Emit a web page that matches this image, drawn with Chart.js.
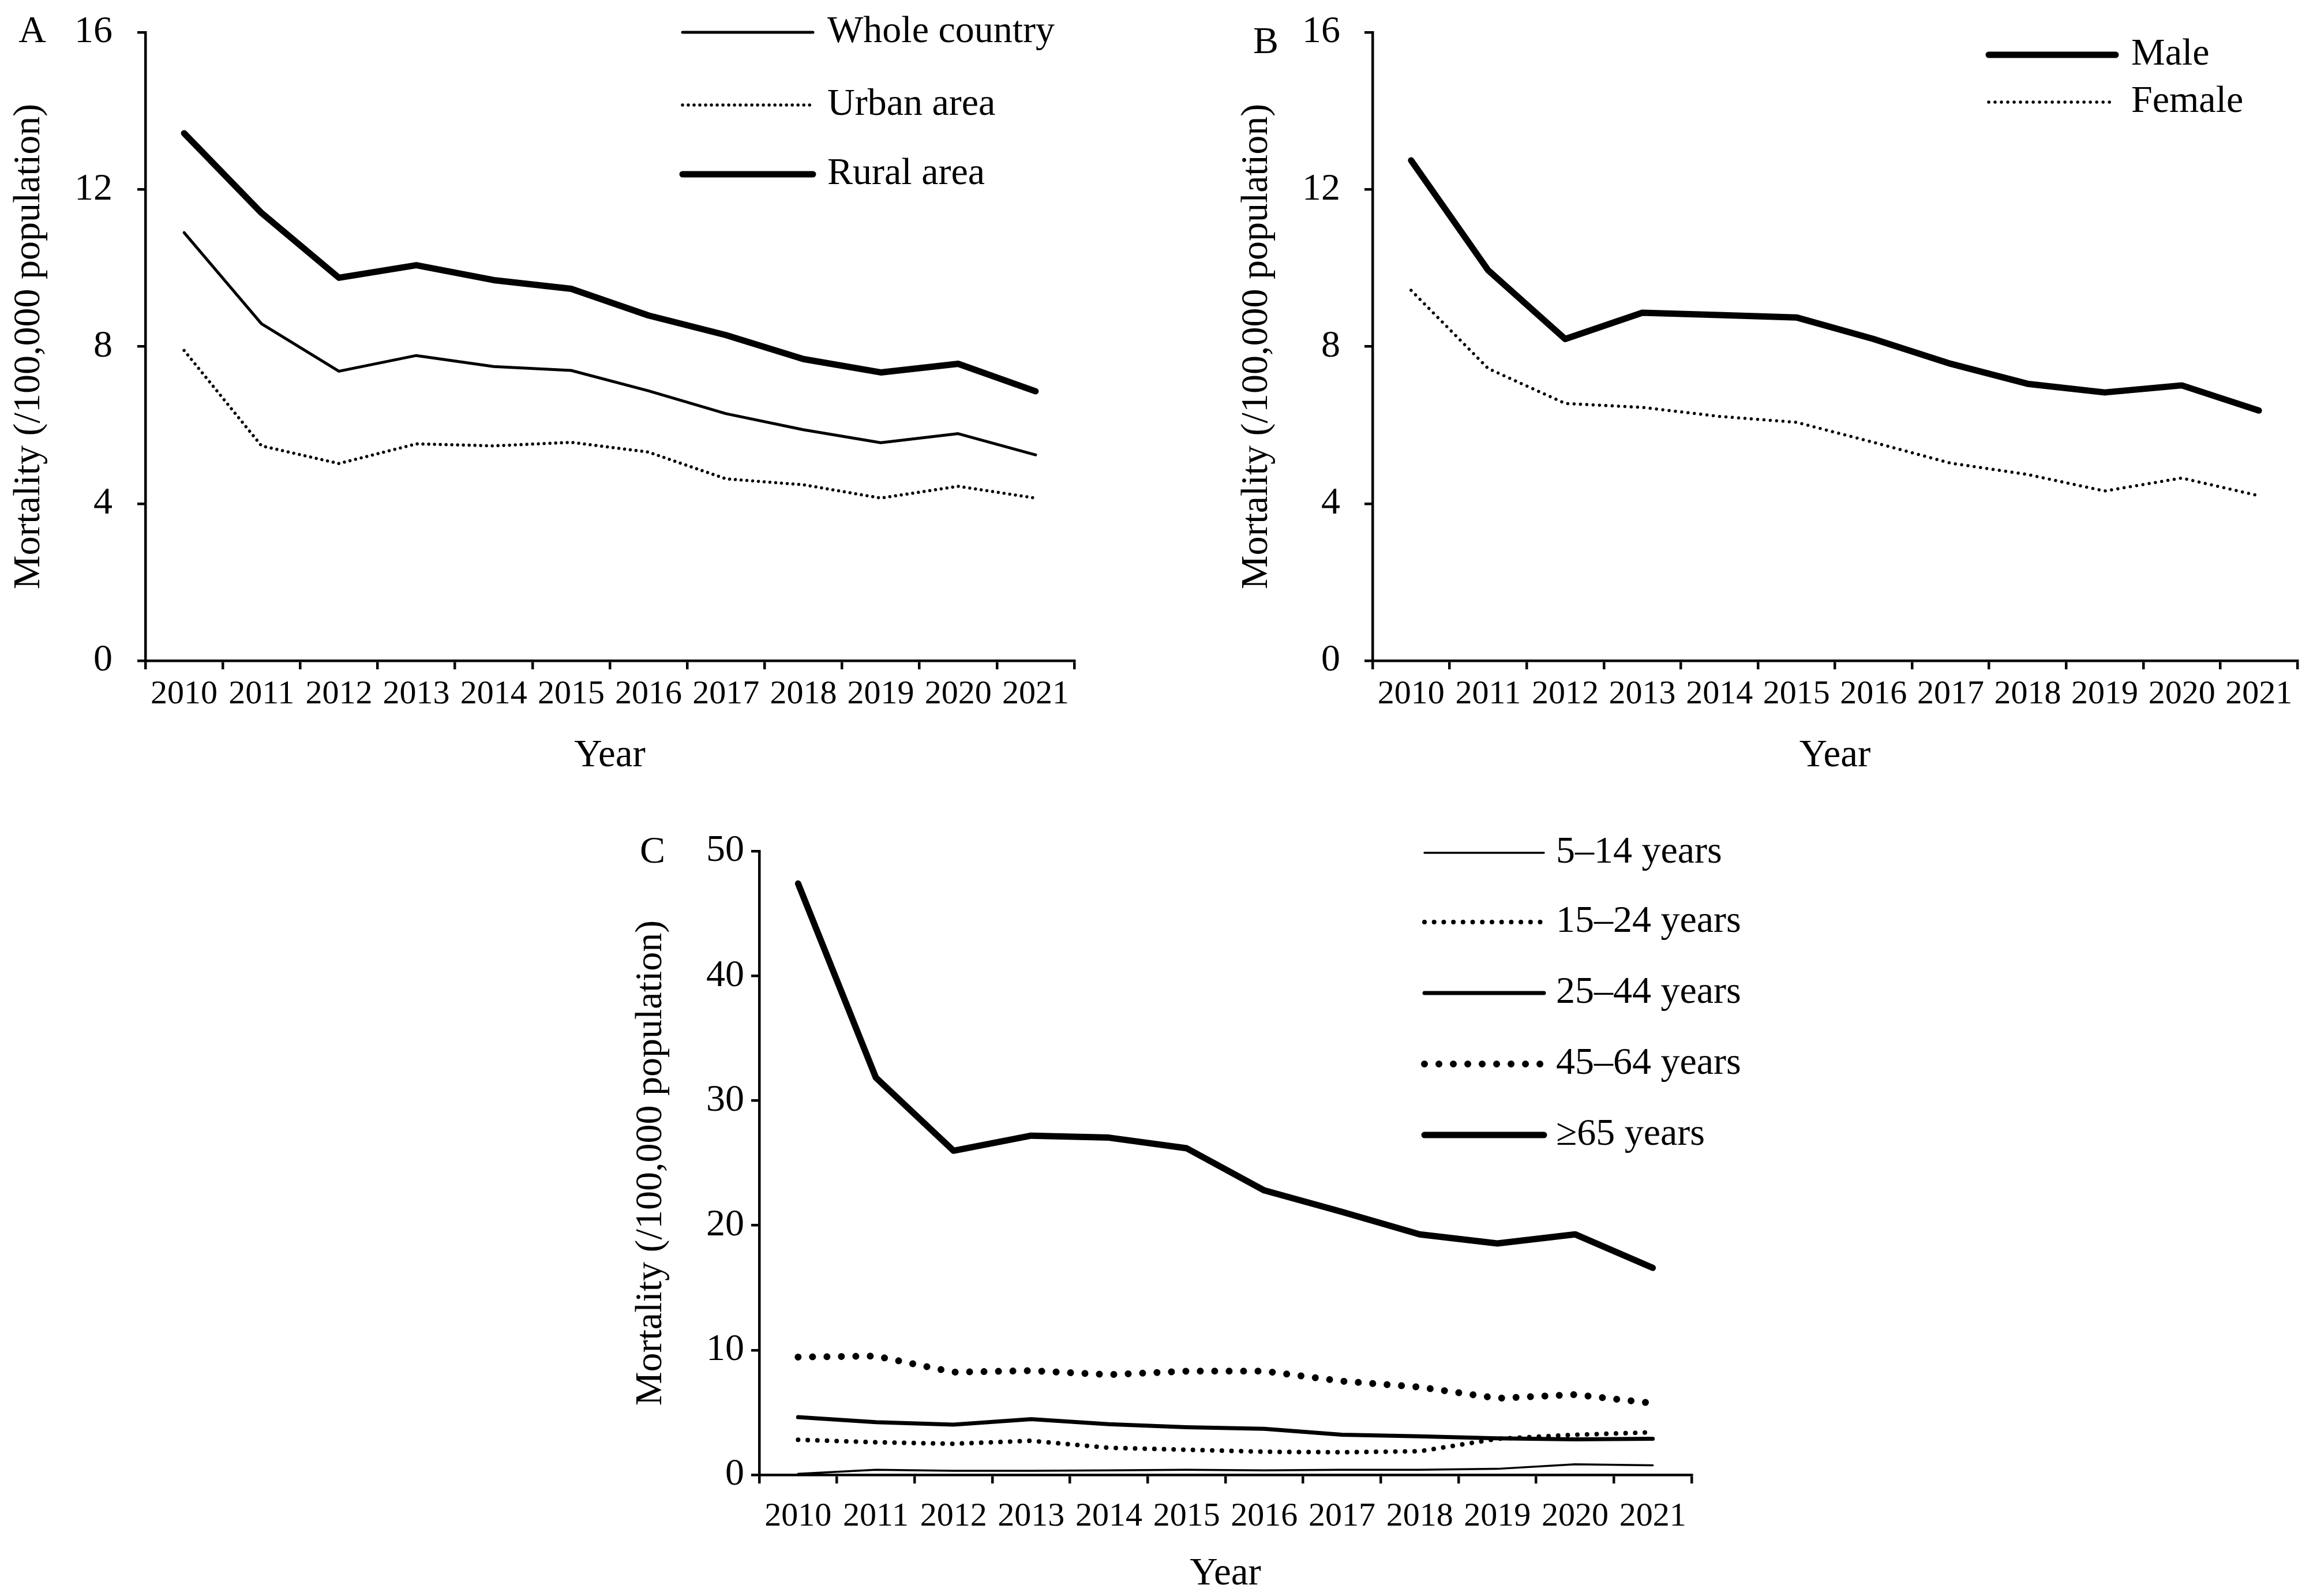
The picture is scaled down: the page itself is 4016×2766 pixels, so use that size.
<!DOCTYPE html>
<html>
<head>
<meta charset="utf-8">
<script src="https://cdn.jsdelivr.net/npm/chart.js@4.4.1/dist/chart.umd.min.js"></script>
<style>
  html, body { margin: 0; padding: 0; background: #ffffff; }
  body { width: 4016px; height: 2766px; position: relative; overflow: hidden; }
  canvas { position: absolute; left: 0; top: 0; pointer-events: none; }
</style>
</head>
<body>
<canvas id="chartA" width="4016" height="2766"></canvas>
<canvas id="chartB" width="4016" height="2766"></canvas>
<canvas id="chartC" width="4016" height="2766"></canvas>
<script>
// ---------------- data ----------------
const years = ['2010','2011','2012','2013','2014','2015','2016','2017','2018','2019','2020','2021'];

const wholeCountry = [10.90, 8.58, 7.37, 7.77, 7.49, 7.39, 6.87, 6.29, 5.88, 5.55, 5.78, 5.24];
const urbanArea    = [7.90, 5.47, 5.02, 5.52, 5.47, 5.56, 5.31, 4.63, 4.48, 4.14, 4.44, 4.14];
const ruralArea    = [13.43, 11.40, 9.75, 10.07, 9.69, 9.47, 8.79, 8.29, 7.68, 7.34, 7.56, 6.86];

const male   = [12.74, 9.94, 8.19, 8.86, 8.80, 8.74, 8.19, 7.56, 7.05, 6.83, 7.01, 6.37];
const female = [9.43, 7.44, 6.55, 6.45, 6.22, 6.07, 5.56, 5.03, 4.74, 4.32, 4.65, 4.20];

const age5to14  = [0.08, 0.40, 0.32, 0.32, 0.36, 0.40, 0.36, 0.40, 0.40, 0.48, 0.84, 0.76];
const age15to24 = [2.81, 2.61, 2.49, 2.73, 2.17, 2.01, 1.85, 1.81, 1.89, 2.89, 3.21, 3.41];
const age25to44 = [4.62, 4.22, 4.02, 4.46, 4.06, 3.82, 3.69, 3.21, 3.09, 2.93, 2.85, 2.89];
const age45to64 = [9.44, 9.52, 8.23, 8.35, 8.03, 8.31, 8.31, 7.51, 7.03, 6.14, 6.43, 5.74];
const age65plus = [47.4, 31.85, 25.98, 27.19, 27.03, 26.18, 22.8, 21.08, 19.28, 18.55, 19.28, 16.59];

const yTicksAB = [0, 4, 8, 12, 16];
const yTicksC  = [0, 10, 20, 30, 40, 50];

const labelsA = ['Whole country', 'Urban area', 'Rural area'];
const labelsB = ['Male', 'Female'];
const labelsC = ['5\u201314 years', '15\u201324 years', '25\u201344 years', '45\u201364 years', '\u226565 years'];

const yTitle = 'Mortality (/100,000 population)';
const xTitle = 'Year';

// ---------------- styling ----------------
const FONT = "'Liberation Serif', 'Times New Roman', serif";
const W = 4016, H = 2766;
Chart.defaults.font.family = FONT;
Chart.defaults.color = '#000';

function dots(spacing) { return [0.01, spacing]; }

function series(label, data, width, dash) {
  return {
    label, data,
    borderColor: '#000', backgroundColor: '#000',
    borderWidth: width,
    borderDash: dash || [],
    borderCapStyle: 'round', borderJoinStyle: 'round',
    pointRadius: 0, pointHoverRadius: 0, tension: 0, fill: false
  };
}

const manualLegend = {
  id: 'manualLegend',
  afterDraw(chart, args, opts) {
    const ctx = chart.ctx;
    ctx.save();
    chart.data.datasets.forEach((ds, i) => {
      const y = opts.rows[i];
      ctx.beginPath();
      ctx.strokeStyle = ds.borderColor;
      ctx.lineWidth = ds.borderWidth;
      ctx.lineCap = 'round';
      ctx.setLineDash(ds.borderDash || []);
      ctx.moveTo(opts.x1, y);
      ctx.lineTo(opts.x2, y);
      ctx.stroke();
      ctx.setLineDash([]);
      ctx.fillStyle = '#000';
      ctx.font = opts.fontSize + 'px ' + FONT;
      ctx.textAlign = 'left';
      ctx.textBaseline = 'middle';
      ctx.fillText(ds.label, opts.textX, y);
    });
    ctx.font = opts.letterSize + 'px ' + FONT;
    ctx.textAlign = 'center';
    ctx.textBaseline = 'middle';
    ctx.fillText(opts.letter, opts.letterX, opts.letterY);
    ctx.restore();
  }
};

function makeChart(id, cfg) {
  const area = cfg.area; // left, top, right, bottom
  const yBoxLeft = cfg.yBoxLeft;
  const xBoxH = cfg.xBoxH;
  return new Chart(document.getElementById(id), {
    type: 'line',
    data: { labels: years, datasets: cfg.datasets },
    plugins: [manualLegend],
    options: {
      responsive: false,
      animation: false,
      devicePixelRatio: 1,
      layout: { padding: { left: yBoxLeft, top: area.top, right: W - area.right, bottom: H - area.bottom - xBoxH } },
      plugins: {
        legend: { display: false },
        tooltip: { enabled: false },
        manualLegend: cfg.legend
      },
      scales: {
        x: {
          type: 'category',
          offset: true,
          afterFit: (s) => { s.height = xBoxH; s.paddingLeft = 0; s.paddingRight = 0; },
          grid: { display: true, offset: true, drawOnChartArea: false, drawTicks: true, tickLength: 15, color: '#000', lineWidth: 4.5 },
          border: { display: true, color: '#000', width: 4.5 },
          ticks: { autoSkip: false, maxRotation: 0, minRotation: 0, padding: cfg.xTickPad, color: '#000', font: { size: 58, family: FONT } },
          title: { display: true, text: xTitle, color: '#000', font: { size: 67, family: FONT }, padding: { top: 0, bottom: cfg.xTitlePad } }
        },
        y: {
          min: cfg.yMin, max: cfg.yMax,
          afterFit: (s) => { s.width = area.left - yBoxLeft; s.paddingTop = 0; s.paddingBottom = 0; },
          afterBuildTicks: (s) => { s.ticks = cfg.yTicks.map(v => ({ value: v })); },
          grid: { display: true, drawOnChartArea: false, drawTicks: true, tickLength: 14, color: '#000', lineWidth: 4.5 },
          border: { display: true, color: '#000', width: 4.5 },
          ticks: { padding: cfg.yTickPad, color: '#000', font: { size: 66, family: FONT } },
          title: { display: true, text: yTitle, color: '#000', font: { size: 66, family: FONT }, padding: { top: cfg.yTitlePad, bottom: 0 } }
        }
      }
    }
  });
}

// Panel A
makeChart('chartA', {
  area: { left: 252, top: 56, right: 1862, bottom: 1145 },
  yBoxLeft: 0, xBoxH: 200, xTickPad: 9, xTitlePad: -6, yTickPad: 43, yTitlePad: 11,
  yMin: 0, yMax: 16, yTicks: yTicksAB,
  datasets: [
    series(labelsA[0], wholeCountry, 5),
    series(labelsA[1], urbanArea, 5.5, dots(10)),
    series(labelsA[2], ruralArea, 11)
  ],
  legend: { rows: [56, 182, 302], x1: 1183, x2: 1409, textX: 1434, fontSize: 66,
            letter: 'A', letterX: 56, letterY: 56, letterSize: 66 }
});

// Panel B
makeChart('chartB', {
  area: { left: 2379, top: 56, right: 3982, bottom: 1145 },
  yBoxLeft: 2100, xBoxH: 200, xTickPad: 9, xTitlePad: -6, yTickPad: 42, yTitlePad: 39,
  yMin: 0, yMax: 16, yTicks: yTicksAB,
  datasets: [
    series(labelsB[0], male, 11),
    series(labelsB[1], female, 5.5, dots(11))
  ],
  legend: { rows: [95, 177], x1: 3447, x2: 3667, textX: 3694, fontSize: 66,
            letter: 'B', letterX: 2194, letterY: 75, letterSize: 66 }
});

// Panel C
makeChart('chartC', {
  area: { left: 1316, top: 1475, right: 2932, bottom: 2556 },
  yBoxLeft: 1060, xBoxH: 205, xTickPad: 23, xTitlePad: -8, yTickPad: 12, yTitlePad: 29,
  yMin: 0, yMax: 50, yTicks: yTicksC,
  datasets: [
    series(labelsC[0], age5to14, 3.5),
    series(labelsC[1], age15to24, 8, dots(16.7)),
    series(labelsC[2], age25to44, 7),
    series(labelsC[3], age45to64, 12, dots(25)),
    series(labelsC[4], age65plus, 11)
  ],
  legend: { rows: [1478, 1598, 1721, 1844, 1967], x1: 2469, x2: 2676, textX: 2697, fontSize: 66,
            letter: 'C', letterX: 1131, letterY: 1478, letterSize: 66 }
});
</script>
</body>
</html>
